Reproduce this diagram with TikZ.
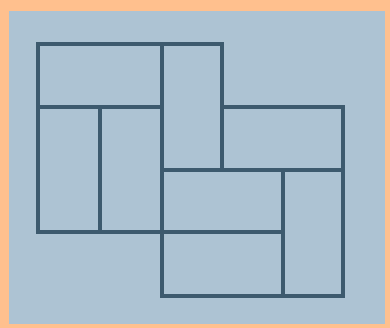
\documentclass[tikz,border=0pt]{standalone}
\usepackage{xcolor}
\usepackage{tikz}
\definecolor{FrameOrange}{HTML}{FFC08E}
\definecolor{BoardGrey}{HTML}{ADC3D3}
\definecolor{TileTeal}{HTML}{3D5A6E}
\begin{document}
\begin{tikzpicture}[
  x=1pt, y=-1pt,
  tile/.style={draw=TileTeal, line width=3.2pt, line join=miter},
  board/.style={fill=BoardGrey}
]
\useasboundingbox (0,0) rectangle (390,328);
\fill[FrameOrange] (0,0) rectangle (390,328);
\fill[board] (9,11) rectangle (385,324);

% outer pieces
\draw[tile] (38,44) rectangle (162,232);
\draw[tile] (162,44) rectangle (222,170);
\draw[tile] (222,107) rectangle (343,170);
\draw[tile] (162,170) rectangle (343,296);
% inner splits
\draw[tile] (38,107) -- (162,107);
\draw[tile] (100,107) -- (100,232);
\draw[tile] (162,232) -- (283,232);
\draw[tile] (283,170) -- (283,296);
\end{tikzpicture}
\end{document}
